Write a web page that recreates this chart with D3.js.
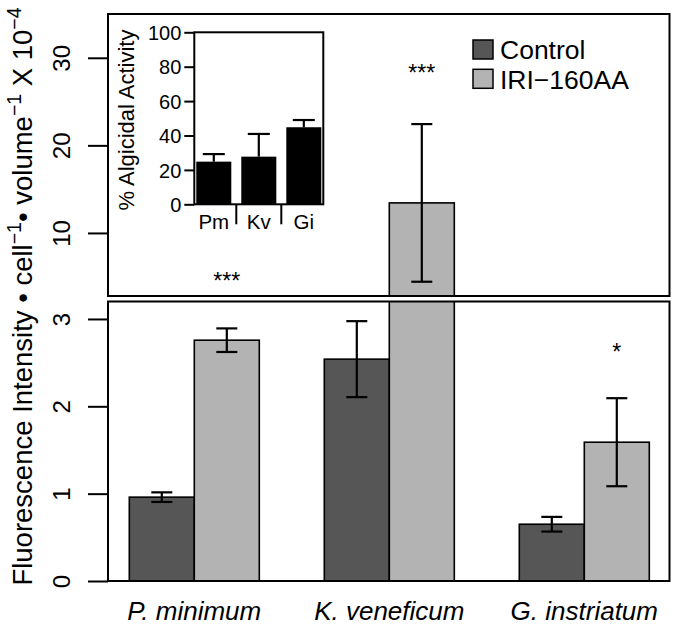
<!DOCTYPE html>
<html><head><meta charset="utf-8">
<script src="https://cdn.jsdelivr.net/npm/d3@7"></script>
<style>
body{margin:0;background:#fff}
svg{display:block}
text{font-family:"Liberation Sans",Arial,Helvetica,sans-serif;fill:#000}
</style>
</head><body><svg id="c" width="675" height="627"></svg>
<script>
// ---- data ----
const categories = ["P. minimum", "K. veneficum", "G. instriatum"];
const seriesNames = ["Control", "IRI\u2212160AA"];
const seriesColors = ["#565656", "#b3b3b3"];
const controlMeans = [0.96, 2.54, 0.65];
const controlErrs = [0.055, 0.435, 0.084];
const iriMeans = [2.757, 13.43, 1.589];
const iriErrs = [0.135, 9.0, 0.504];
const lowerTicks = [0, 1, 2, 3];
const upperTicks = [10, 20, 30];
const sigLabels = ["***", "***", "*"];
const sigValues = [3.65, 27.4, 2.53];
const sigPanels = ["upper", "upper", "lower"];
const insetCategories = ["Pm", "Kv", "Gi"];
const insetMeans = [24.8, 27.7, 44.8];
const insetErrs = [4.4, 13.2, 4.2];
const insetTicks = [0, 20, 40, 60, 80, 100];

// ---- layout ----
const svg = d3.select("#c");
const L = 108, R = 669.5;
const upTop = 14, upBot = 296, lowTop = 301.5, lowBot = 581;

const x0 = d3.scaleBand().domain(categories).range([96.8, 681.8]).paddingInner(1/3).paddingOuter(1/6);
const x1 = d3.scaleBand().domain(seriesNames).range([0, x0.bandwidth()]);
const yLow = d3.scaleLinear().domain([0, 3.2]).range([lowBot, lowTop]);
const yUp = d3.scaleLinear().domain([2.8, 35]).range([upBot, upTop]);

const means = [controlMeans, iriMeans];
const errs = [controlErrs, iriErrs];
const bars = [];
categories.forEach((c, i) => seriesNames.forEach((s, j) => {
  bars.push({cat: c, ser: s, j, v: means[j][i], e: errs[j][i]});
}));

const defs = svg.append("defs");
defs.append("clipPath").attr("id", "clipUp").append("rect")
  .attr("x", L).attr("y", upTop).attr("width", R - L).attr("height", upBot - upTop);
defs.append("clipPath").attr("id", "clipLow").append("rect")
  .attr("x", L).attr("y", lowTop).attr("width", R - L).attr("height", lowBot - lowTop);

// lower panel bars
const gLow = svg.append("g").attr("clip-path", "url(#clipLow)");
gLow.selectAll("rect").data(bars).join("rect")
  .attr("x", d => x0(d.cat) + x1(d.ser))
  .attr("width", x1.bandwidth())
  .attr("y", d => yLow(Math.min(d.v, 3.3)))
  .attr("height", d => yLow(0) - yLow(Math.min(d.v, 3.3)))
  .attr("fill", d => seriesColors[d.j])
  .attr("stroke", "#000").attr("stroke-width", 1.6);

// upper panel bars
const upMin = yUp.domain()[0];
const gUp = svg.append("g").attr("clip-path", "url(#clipUp)");
gUp.selectAll("rect").data(bars.filter(d => d.v > upMin)).join("rect")
  .attr("x", d => x0(d.cat) + x1(d.ser))
  .attr("width", x1.bandwidth())
  .attr("y", d => yUp(d.v))
  .attr("height", d => yUp(upMin) - yUp(d.v) + 5)
  .attr("fill", d => seriesColors[d.j])
  .attr("stroke", "#000").attr("stroke-width", 1.6);

// error bars
const capW = 21;
bars.forEach(d => {
  const y = d.v > upMin ? yUp : yLow;
  const cx = x0(d.cat) + x1(d.ser) + x1.bandwidth() / 2;
  const g = svg.append("g").attr("stroke", "#000").attr("stroke-width", 2.2).attr("fill", "none");
  g.append("line").attr("x1", cx).attr("x2", cx).attr("y1", y(d.v - d.e)).attr("y2", y(d.v + d.e));
  [d.v - d.e, d.v + d.e].forEach(t => g.append("line")
    .attr("x1", cx - capW / 2).attr("x2", cx + capW / 2).attr("y1", y(t)).attr("y2", y(t)));
});

// panel borders
[[upTop, upBot], [lowTop, lowBot]].forEach(([t, b]) => {
  svg.append("rect").attr("x", L).attr("y", t).attr("width", R - L).attr("height", b - t)
    .attr("fill", "none").attr("stroke", "#000").attr("stroke-width", 2);
});

// axes
function styleAxis(g) {
  g.select(".domain").remove();
  g.selectAll(".tick line").attr("stroke-width", 2);
  g.selectAll(".tick text")
    .attr("transform", "rotate(-90)")
    .attr("x", 0).attr("y", -38).attr("dy", 0)
    .attr("text-anchor", "middle")
    .style("font-size", "24px");
}
svg.append("g").attr("transform", `translate(${L},0)`)
  .call(d3.axisLeft(yLow).tickValues(lowerTicks).tickSize(20).tickFormat(d3.format("d")))
  .call(styleAxis);
svg.append("g").attr("transform", `translate(${L},0)`)
  .call(d3.axisLeft(yUp).tickValues(upperTicks).tickSize(20).tickFormat(d3.format("d")))
  .call(styleAxis);

// x labels
svg.append("g").selectAll("text").data(categories).join("text")
  .attr("x", d => x0(d) + x0.bandwidth() / 2)
  .attr("y", 620)
  .attr("text-anchor", "middle")
  .style("font-size", "26px").style("font-style", "italic")
  .text(d => d);

// y title
const title = svg.append("text")
  .attr("transform", "translate(32,296.5) rotate(-90)")
  .attr("text-anchor", "middle")
  .style("font-size", "27.5px");
const parts = [["Fluorescence Intensity \u2022 cell", false], ["\u22121", true], ["\u2022 volume", false],
  ["\u22121", true], [" X 10", false], ["\u22124", true]];
let raised = false;
parts.forEach(([t, sup]) => {
  const ts = title.append("tspan").text(t);
  if (sup) { ts.attr("dy", raised ? 0 : -11).style("font-size", "19.5px"); raised = true; }
  else { ts.attr("dy", raised ? 11 : 0); raised = false; }
});

// significance labels
sigLabels.forEach((s, i) => {
  const y = sigPanels[i] === "upper" ? yUp : yLow;
  svg.append("text")
    .attr("x", x0(categories[i]) + x1(seriesNames[1]) + x1.bandwidth() / 2)
    .attr("y", y(sigValues[i]))
    .attr("text-anchor", "middle")
    .style("font-size", "23px")
    .text(s);
});

// legend
seriesNames.forEach((s, j) => {
  svg.append("rect").attr("x", 473).attr("y", 40 + j * 29.3).attr("width", 20).attr("height", 19)
    .attr("fill", seriesColors[j]).attr("stroke", "#000").attr("stroke-width", 1.5);
  svg.append("text").attr("x", 500).attr("y", 59.3 + j * 29.3)
    .style("font-size", "26.5px").text(s);
});

// inset
const inL = 194.3, inR = 323.3, inT = 32.3, inB = 204.3;
const xIn = d3.scaleBand().domain(insetCategories).range([inL, inR]).paddingInner(0.222).paddingOuter(0.044);
const yIn = d3.scaleLinear().domain([0, 100]).range([inB, inT]);
const gIn = svg.append("g");
gIn.selectAll("rect.b").data(insetCategories).join("rect").attr("class", "b")
  .attr("x", d => xIn(d)).attr("width", xIn.bandwidth())
  .attr("y", (d, i) => yIn(insetMeans[i]))
  .attr("height", (d, i) => yIn(0) - yIn(insetMeans[i]))
  .attr("fill", "#000");
insetCategories.forEach((c, i) => {
  const cx = xIn(c) + xIn.bandwidth() / 2;
  const top = yIn(insetMeans[i] + insetErrs[i]);
  gIn.append("line").attr("x1", cx).attr("x2", cx).attr("y1", yIn(insetMeans[i])).attr("y2", top)
    .attr("stroke", "#000").attr("stroke-width", 2.2);
  gIn.append("line").attr("x1", cx - 11).attr("x2", cx + 11).attr("y1", top).attr("y2", top)
    .attr("stroke", "#000").attr("stroke-width", 2.2);
});
gIn.append("rect").attr("x", inL).attr("y", inT).attr("width", inR - inL).attr("height", inB - inT)
  .attr("fill", "none").attr("stroke", "#000").attr("stroke-width", 2);
const ax = gIn.append("g").attr("transform", `translate(${inL},0)`)
  .call(d3.axisLeft(yIn).tickValues(insetTicks).tickSize(10).tickPadding(3));
ax.select(".domain").remove();
ax.selectAll(".tick line").attr("stroke-width", 2);
ax.selectAll(".tick text").style("font-size", "20px").attr("dy", "0.36em");
// separators
insetCategories.slice(1).forEach((c, i) => {
  const sx = (xIn(insetCategories[i]) + xIn.bandwidth() + xIn(c)) / 2;
  gIn.append("line").attr("x1", sx).attr("x2", sx).attr("y1", inB).attr("y2", inB + 20)
    .attr("stroke", "#000").attr("stroke-width", 2);
});
gIn.selectAll("text.xl").data(insetCategories).join("text").attr("class", "xl")
  .attr("x", d => xIn(d) + xIn.bandwidth() / 2).attr("y", 228.5)
  .attr("text-anchor", "middle").style("font-size", "20.5px").text(d => d);
gIn.append("text").attr("transform", `translate(134,120) rotate(-90)`)
  .attr("text-anchor", "middle").style("font-size", "22px").text("% Algicidal Activity");
</script>
</body></html>
